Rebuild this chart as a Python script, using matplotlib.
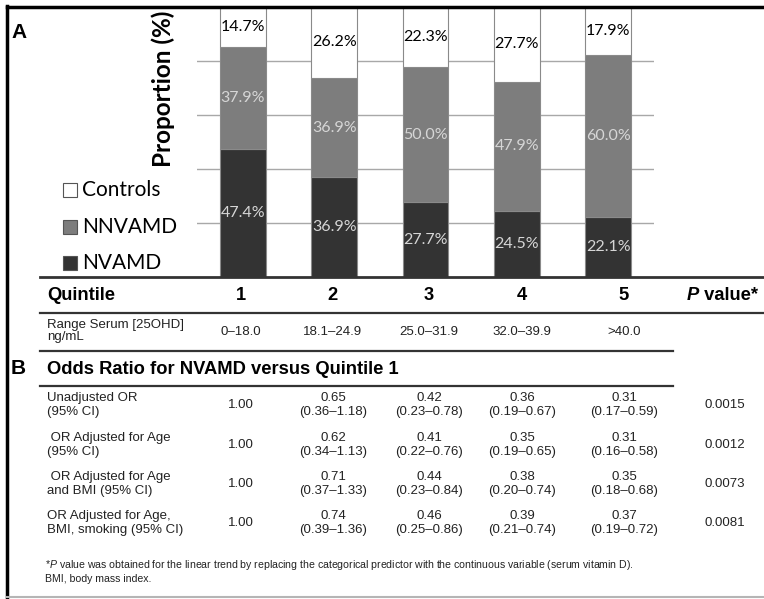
import matplotlib.pyplot as plt
from matplotlib.patches import Rectangle
from matplotlib.lines import Line2D

plt.rcParams['mathtext.fontset'] = 'custom'
plt.rcParams['mathtext.it'] = 'Liberation Sans:italic'
plt.rcParams['mathtext.rm'] = 'Liberation Sans'

# Proportions (%) per serum 25OHD quintile
quintiles = ['1', '2', '3', '4', '5']
nvamd = [47.4, 36.9, 27.7, 24.5, 22.1]
nnvamd = [37.9, 36.9, 50.0, 47.9, 60.0]
controls = [14.7, 26.2, 22.3, 27.7, 17.9]
series_names = ['Controls', 'NNVAMD', 'NVAMD']

serum_ranges = ['0\u201318.0', '18.1\u201324.9', '25.0\u201331.9', '32.0\u201339.9', '>40.0']

# Odds ratios for NVAMD vs quintile 1
or_labels = [
    'Unadjusted OR\n(95% CI)',
    ' OR Adjusted for Age\n(95% CI)',
    ' OR Adjusted for Age\nand BMI (95% CI)',
    'OR Adjusted for Age,\nBMI, smoking (95% CI)',
]
or_values = [
    ['1.00', '0.65', '0.42', '0.36', '0.31'],
    ['1.00', '0.62', '0.41', '0.35', '0.31'],
    ['1.00', '0.71', '0.44', '0.38', '0.35'],
    ['1.00', '0.74', '0.46', '0.39', '0.37'],
]
or_ci = [
    ['', '(0.36\u20131.18)', '(0.23\u20130.78)', '(0.19\u20130.67)', '(0.17\u20130.59)'],
    ['', '(0.34\u20131.13)', '(0.22\u20130.76)', '(0.19\u20130.65)', '(0.16\u20130.58)'],
    ['', '(0.37\u20131.33)', '(0.23\u20130.84)', '(0.20\u20130.74)', '(0.18\u20130.68)'],
    ['', '(0.39\u20131.36)', '(0.25\u20130.86)', '(0.21\u20130.74)', '(0.19\u20130.72)'],
]
p_values = ['0.0015', '0.0012', '0.0073', '0.0081']

footnote = ('*$\\it{P}$ value was obtained for the linear trend by replacing the categorical '
            'predictor with the continuous variable (serum vitamin D).\nBMI, body mass index.')

W, H = 764, 599
DARK, MID, LIGHT = '#333333', '#7d7d7d', '#ffffff'
EDGE = '#8a8a8a'
TXT = '#222222'
SANS = 'Liberation Sans'
CAL = 'Lato'

# table column centres (pixels) and row centres
col_x = [241, 333, 429, 522, 624]
row_y = [405, 445, 484, 523]


def fx(x):
    return x / W


def fy(y):
    return 1 - y / H


def hline(y, x0, x1, color='#333333', lw=1.6):
    fig.add_artist(Line2D([fx(x0), fx(x1)], [fy(y), fy(y)], color=color, lw=lw))


fig = plt.figure(figsize=(W / 100, H / 100), dpi=100)

# ---- panel A: stacked bars ----
ax = fig.add_axes([fx(197), fy(277), (654 - 197) / W, (277 - 7) / H])
xs = list(range(len(quintiles)))
bottom2 = [a + b for a, b in zip(nvamd, nnvamd)]
ax.bar(xs, nvamd, 0.5, color=DARK, edgecolor=EDGE, lw=0.8, zorder=3)
ax.bar(xs, nnvamd, 0.5, bottom=nvamd, color=MID, edgecolor=EDGE, lw=0.8, zorder=3)
ax.bar(xs, controls, 0.5, bottom=bottom2, color=LIGHT, edgecolor=EDGE, lw=0.8, zorder=3)

for i in xs:
    ax.text(i, nvamd[i] / 2, f'{nvamd[i]:.1f}%', ha='center', va='center',
            color='#d6d6d6', fontsize=11.5, family=CAL, zorder=4)
    ax.text(i, nvamd[i] + nnvamd[i] / 2, f'{nnvamd[i]:.1f}%', ha='center', va='center',
            color='#d6d6d6', fontsize=11.5, family=CAL, zorder=4)
    ax.text(i, bottom2[i] + controls[i] / 2, f'{controls[i]:.1f}%', ha='center', va='center',
            color='black', fontsize=11.5, family=CAL, zorder=4)

ax.set_xlim(-0.5, 4.5)
ax.set_ylim(0, 100)
ax.set_yticks([20, 40, 60, 80])
ax.grid(axis='y', color='#a8a8a8', lw=1, zorder=0)
ax.tick_params(left=False, bottom=False, labelleft=False, labelbottom=False)
for s in ax.spines.values():
    s.set_visible(False)

fig.text(fx(163), fy(89), 'Proportion (%)', rotation=90, ha='center', va='center',
         fontsize=17.5, fontweight='bold', family=CAL)

# legend
for name, color, y in zip(series_names, [LIGHT, MID, DARK], [190, 227, 263]):
    fig.add_artist(Rectangle((fx(63), fy(y + 7)), 14 / W, 14 / H, facecolor=color,
                             edgecolor='#555555', lw=0.8))
    fig.text(fx(82), fy(y), name, ha='left', va='center', fontsize=15, family=CAL)

fig.text(fx(11), fy(33), 'A', ha='left', va='center', fontsize=15, fontweight='bold', family=SANS)

# ---- table ----
hline(277, 40, 764, lw=2)
fig.text(fx(47), fy(295), 'Quintile', ha='left', va='center', fontsize=13.2,
         fontweight='bold', family=SANS)
for cx, q in zip(col_x, quintiles):
    fig.text(fx(cx), fy(295), q, ha='center', va='center', fontsize=13.2,
             fontweight='bold', family=SANS)
p_txt = fig.text(fx(687), fy(295), 'P', ha='left', va='center', fontsize=13.2,
                 fontweight='bold', fontstyle='italic', family=SANS)
ax.annotate(' value*', xy=(1, 0.5), xycoords=p_txt, ha='left', va='center',
            fontsize=13.2, fontweight='bold', family=SANS, annotation_clip=False)
hline(313, 40, 764)

fig.text(fx(47), fy(331), 'Range Serum [25OHD]\nng/mL', ha='left', va='center', fontsize=9.5,
         family=SANS, color=TXT, linespacing=1.1)
for cx, r in zip(col_x, serum_ranges):
    fig.text(fx(cx), fy(332), r, ha='center', va='center', fontsize=9.5,
             family=SANS, color=TXT)
hline(351, 40, 673)

fig.text(fx(11), fy(369), 'B', ha='left', va='center', fontsize=15, fontweight='bold', family=SANS)
fig.text(fx(47), fy(369), 'Odds Ratio for NVAMD versus Quintile 1', ha='left', va='center',
         fontsize=13.2, fontweight='bold', family=SANS)
hline(386, 40, 673)

for r, y in enumerate(row_y):
    fig.text(fx(47), fy(y), or_labels[r], ha='left', va='center', fontsize=9.5,
             family=SANS, color=TXT, linespacing=1.25)
    for i, cx in enumerate(col_x):
        if or_ci[r][i]:
            fig.text(fx(cx), fy(y), f'{or_values[r][i]}\n{or_ci[r][i]}', ha='center',
                     va='center', fontsize=9.5, family=SANS, color=TXT,
                     linespacing=1.25, multialignment='center')
        else:
            fig.text(fx(cx), fy(y), or_values[r][i], ha='center', va='center',
                     fontsize=9.5, family=SANS, color=TXT)
    fig.text(fx(725), fy(y), p_values[r], ha='center', va='center', fontsize=9.5,
             family=SANS, color=TXT)

fig.text(fx(45), fy(571), footnote, ha='left', va='center', fontsize=7.6, family=SANS,
         color=TXT, linespacing=1.25)

# frame
hline(7, 7, 764, color='black', lw=2.5)
fig.add_artist(Line2D([fx(7), fx(7)], [fy(6), fy(599)], color='black', lw=2.5))
hline(597, 7, 764, color='#b5b5b5', lw=1.5)

fig.savefig('out.png', dpi=100, facecolor='white')
